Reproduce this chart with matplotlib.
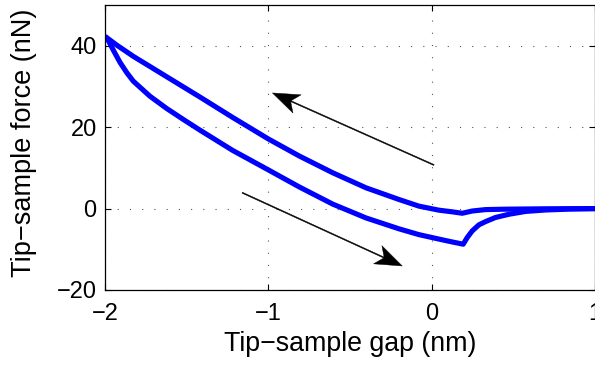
import matplotlib
matplotlib.use('Agg')
import matplotlib.pyplot as plt
import matplotlib.patches as mpatches
from matplotlib.transforms import IdentityTransform

plt.rcParams['font.family'] = ['Liberation Sans', 'DejaVu Sans']

# retract branch (upper)
gap_up = [-2.0, -1.93, -1.827, -1.623, -1.419, -1.219, -1.0, -0.81, -0.606,
          -0.402, -0.198, -0.078, 0.045, 0.126, 0.187, 0.248, 0.33, 0.45,
          0.7, 1.0]
force_up = [42.3, 40.2, 37.4, 32.4, 27.4, 22.4, 17.1, 12.9, 8.8,
            5.1, 2.2, 0.6, -0.4, -0.8, -1.15, -0.6, -0.25, -0.15,
            -0.05, 0.0]

# approach branch (lower)
gap_dn = [-2.0, -1.98, -1.949, -1.908, -1.867, -1.827, -1.725, -1.623, -1.521,
          -1.42, -1.219, -1.0, -0.81, -0.606, -0.402, -0.198, -0.078, 0.045,
          0.126, 0.193, 0.218, 0.248, 0.289, 0.33, 0.39, 0.473, 0.575, 0.697,
          0.85, 1.0]
force_dn = [42.3, 41.3, 38.9, 35.9, 33.4, 31.3, 27.6, 24.6, 21.9,
            19.3, 14.3, 9.5, 5.3, 1.1, -2.3, -5.0, -6.4, -7.5,
            -8.2, -8.75, -7.1, -5.5, -4.0, -3.2, -2.2, -1.4, -0.7, -0.35,
            -0.12, -0.02]

# arrows: (tail, tip) in data units
arrow_left = [(0.014, 10.7), (-0.975, 28.4)]
arrow_right = [(-1.16, 3.9), (-0.18, -14.1)]

xticks = [-2, -1, 0, 1]
yticks = [-20, 0, 20, 40]

fig = plt.figure(figsize=(5.95, 3.65), dpi=100)
ax = fig.add_axes([105/595, 75/365, 490/595, 285/365])

for gx, fy in ((gap_up, force_up), (gap_dn, force_dn)):
    ax.plot(gx, fy, color='#0000ff', lw=3.7, solid_joinstyle='round',
            solid_capstyle='butt')

ax.set_xlim(-2, 1)
ax.set_ylim(-20, 50)
ax.set_xticks(xticks)
ax.set_yticks(yticks)
ax.set_xticklabels(['\u2212' + str(-t) if t < 0 else str(t) for t in xticks])
ax.set_yticklabels(['\u2212' + str(-t) if t < 0 else str(t) for t in yticks])
ax.grid(True, color='#555555', lw=0.8, linestyle=(0, (1, 10)))
ax.tick_params(direction='in', length=4, width=0.8, top=True, right=True,
               labelsize=17, colors='black')
ax.tick_params(axis='x', pad=9)
ax.tick_params(axis='y', pad=6)
for s in ax.spines.values():
    s.set_linewidth(0.9)

ax.set_xlabel('Tip\u2212sample gap (nm)', fontsize=19.3)
ax.set_ylabel('Tip\u2212sample force (nN)', fontsize=19.5)
ax.xaxis.set_label_coords(0.5, -0.145)
ax.yaxis.set_label_coords(-0.138, 0.515)

# arrows drawn in pixel space so the heads keep their shape
for tail, tip in (arrow_left, arrow_right):
    (x0, y0), (x1, y1) = ax.transData.transform([tail, tip])
    arr = mpatches.FancyArrow(x0, y0, x1 - x0, y1 - y0, width=1.1,
                              head_width=20, head_length=27, overhang=0.25,
                              length_includes_head=True, color='black',
                              lw=0.3, transform=IdentityTransform())
    fig.patches.append(arr)

fig.savefig('out.png', dpi=100)
